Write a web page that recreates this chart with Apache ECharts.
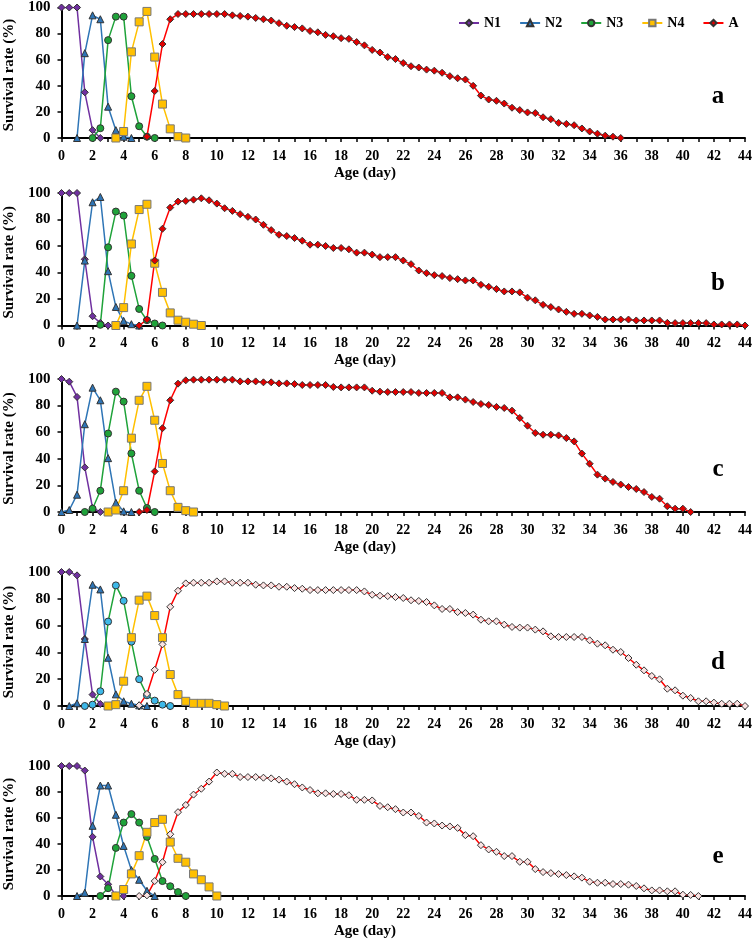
<!DOCTYPE html>
<html>
<head>
<meta charset="utf-8">
<script src="https://cdn.jsdelivr.net/npm/echarts@6/dist/echarts.min.js"></script>
<style>
  html, body { margin: 0; padding: 0; background: #fff; }
  #chart { width: 755px; height: 942px; }
</style>
</head>
<body>
<div id="chart"></div>
<script>
// survival read every 0.5 day; each stage starts at its own day
var panelNames = ['a', 'b', 'c', 'd', 'e'];
var stages = ['N1', 'N2', 'N3', 'N4', 'A'];

// panel a
var startA = [0, 1, 2, 3.5, 5.5];
var aN1 = [100, 100, 100, 35, 6, 0];
var aN2 = [0, 65, 94, 91, 24, 6, 1, 0];
var aN3 = [0, 7.5, 75, 93, 93, 32, 9, 1, 0];
var aN4 = [0, 5, 66, 89, 97, 62, 26, 7, 1, 0];
var aA = [1, 36, 72, 91, 95, 95, 95, 95, 95, 95, 95, 94, 93.5, 93, 92, 91, 90, 88, 86, 85,
  84, 82, 81, 79, 78, 76.5, 76, 73.5, 71, 67.5, 65.5, 62, 60.5, 57.4, 55, 54, 52.4, 51.6, 50, 47.4,
  45.8, 44.8, 40, 32.5, 29.5, 28.5, 26.4, 23.2, 21.4, 19.6, 19.1, 15.9, 14.4, 11.6, 10.8, 9.8, 7.3, 5, 3.3, 1.8,
  1, 0];

// panel b
var startB = [0, 1, 2.5, 3.5, 5];
var bN1 = [100, 100, 100, 50, 7, 2, 0];
var bN2 = [0, 49, 93, 97, 41, 14, 3.5, 1, 0];
var bN3 = [0.5, 59, 86, 83, 37.5, 12.5, 4, 1.5, 0];
var bN4 = [0, 13.5, 61.5, 87.5, 91.5, 47, 25, 9.5, 4, 2.5, 1, 0];
var bA = [0, 4.5, 49, 73, 89, 93.5, 94, 95, 96, 94.5, 92, 88.5, 86.5, 84, 82, 80, 76, 72, 68.5, 67.5,
  66, 64, 61, 61, 60, 58.5, 58.5, 57.5, 55, 55, 53.5, 51.6, 51.6, 51.6, 49, 46.3, 41.5, 39.5, 38, 37.3,
  35.8, 35, 34, 34, 30.7, 29.2, 27.5, 25.7, 25.7, 25, 21, 19, 15.6, 13.9, 12.1, 10.3, 8.8, 8.8, 7.6, 6.5,
  4.5, 4.5, 4.5, 4.5, 3.8, 3.8, 3.8, 3.8, 2, 1.8, 1.8, 1.8, 1.8, 1.8, 0.8, 0.8, 0.8, 0.8, 0];

// panel c
var startC = [0, 0, 1.5, 3, 5];
var cN1 = [100, 98, 86.5, 33.5, 3, 0];
var cN2 = [0, 1.5, 13, 66, 93.5, 84, 40.5, 7, 0.5, 0];
var cN3 = [0, 2.5, 16, 59, 90.5, 83, 44, 16, 3, 0];
var cN4 = [0, 1.5, 16, 55.5, 84, 94.5, 69, 36.5, 16, 3.5, 1, 0];
var cA = [0, 1.5, 30.5, 63, 84, 96.5, 99, 99.5, 99.5, 99.5, 99.5, 99.5, 99.5, 98.2, 98.2, 98.2, 97.5, 97.5, 96.7, 96.7,
  96.2, 95.5, 95.5, 95.5, 95.5, 94, 93.7, 93.7, 93.7, 93.7, 91.2, 90.5, 90.2, 90.2, 90.2, 90.2, 89.5, 89.5, 89.5, 89.5,
  86.2, 86.2, 84.5, 82.7, 81.2, 80.5, 79, 78.2, 76.2, 70.7, 64.9, 59.4, 58.1, 58.1, 57.6, 55.6, 53.1, 43.9, 36.3, 28.1,
  25.1, 22.6, 20.6, 18.8, 17.3, 15, 11.3, 10, 4.3, 2.5, 2.5, 0];

// panel d
var startD = [0, 0.5, 1.5, 3, 5];
var dN1 = [100, 100, 97.5, 50, 8.5, 1.5, 0];
var dN2 = [0, 2, 50, 90.5, 87, 36, 8.7, 3.5, 1.7, 0.5, 0];
var dN3 = [0, 1, 11, 63, 90, 78.5, 48, 20, 8, 4, 1, 0];
var dN4 = [0, 1, 18.5, 51, 79, 82, 67.5, 51, 23.5, 8.5, 3.5, 2, 2, 2, 1, 0];
var dA = [0.5, 9, 27, 46, 74, 86, 91.5, 92, 92, 92, 93, 93, 92, 92, 92, 90.5, 90, 90, 89, 89,
  88, 87.5, 86.5, 86.5, 86.5, 86.5, 86.5, 86.5, 86.5, 85.5, 83, 82.3, 82, 81.3, 80.6, 78.9, 78.4, 77.6, 75.1, 72.4,
  72.4, 70.1, 69.4, 68.2, 64.4, 63.2, 63.2, 60.7, 59, 58.5, 58.5, 57, 55.7, 52, 51.5, 51.5, 51.5, 51.5, 49, 46.5,
  45.3, 42, 40.3, 35.8, 30.8, 26.6, 22.4, 19.9, 12.9, 11.7, 7.7, 6, 3.5, 3.5, 2.5, 1.7, 1.7, 1.7, 0];

// panel e
var startE = [0, 1, 2.5, 3.5, 5];
var eN1 = [100, 100, 100, 96.5, 45.5, 15, 9, 0.5, 0];
var eN2 = [0, 2.5, 54, 85, 85, 62.5, 38.5, 20, 12.5, 4, 0];
var eN3 = [0, 6, 37, 56.5, 63, 56.5, 45.5, 28.5, 11.5, 7.5, 3, 0];
var eN4 = [0, 5, 17, 31, 49, 56.5, 59, 41.5, 29, 26, 17, 12.5, 7, 0];
var eA = [0, 0.5, 11.5, 26, 47.5, 64.5, 70, 78, 82.5, 88, 95, 94, 94, 91.5, 91.5, 91.5, 91, 90.5, 89.5, 88,
  86, 83.5, 81.5, 79, 79, 78.5, 78.5, 77.5, 74, 74, 73.5, 69.3, 68.3, 66.8, 64.2, 64.2, 61.6, 56.5, 55.8, 54.2,
  53.5, 52.4, 46.8, 46, 39.1, 35.8, 34, 30.7, 30.7, 26.3, 26.3, 20.7, 18.4, 17.6, 16.9, 16.1, 15.1, 14.1, 11, 10.2,
  10.2, 9.2, 9.2, 8.7, 7.7, 5.9, 4.3, 4.3, 3.6, 3.6, 1, 0.8, 0];

var xTicks = [0, 44, 2];
var yTicks = [0, 100, 20];

var panelStarts = [startA, startB, startC, startD, startE];
var panelData = [
  [aN1, aN2, aN3, aN4, aA],
  [bN1, bN2, bN3, bN4, bA],
  [cN1, cN2, cN3, cN4, cA],
  [dN1, dN2, dN3, dN4, dA],
  [eN1, eN2, eN3, eN4, eA]
];

var font = '"Liberation Serif", "Times New Roman", serif';
var gridTop = [6, 193, 379, 572, 766];
var gridH = [132, 132.5, 133, 134, 130];

var lineColors = ['#7030A0', '#2E75B6', '#1FA33A', '#FFC000', '#FF0000'];
var fills = ['#7030A0', '#2E75B6', '#1FA33A', '#FFC000', '#E00000'];
var borders = ['#333', '#333', '#333', '#777', '#333'];
var symbols = ['diamond', 'triangle', 'circle', 'rect', 'diamond'];
var sizes = [7, 7, 7, 8, 7];

function toPoints(start, vals) {
  return vals.map(function (v, i) { return [start + i * 0.5, v]; });
}

var chart = echarts.init(document.getElementById('chart'));
var grids = [], xAxes = [], yAxes = [], series = [], graphics = [];

panelNames.forEach(function (p, k) {
  grids.push({ left: 61.5, right: 9, top: gridTop[k], height: gridH[k] });
  xAxes.push({
    type: 'value', gridIndex: k, min: xTicks[0], max: xTicks[1], interval: xTicks[2],
    axisLine: { lineStyle: { color: '#000', width: 2 } },
    axisTick: { length: 4, lineStyle: { color: '#000', width: 1.5 } },
    minorTick: { show: true, splitNumber: 2, length: 4, lineStyle: { color: '#000', width: 1.5 } },
    axisLabel: { color: '#000', fontFamily: font, fontWeight: 'bold', fontSize: 14, margin: 11 },
    splitLine: { show: false }
  });
  yAxes.push({
    type: 'value', gridIndex: k, min: yTicks[0], max: yTicks[1], interval: yTicks[2],
    axisLine: { show: true, lineStyle: { color: '#000', width: 2 } },
    axisTick: { show: true, length: 4, lineStyle: { color: '#000', width: 1.5 } },
    axisLabel: { color: '#000', fontFamily: font, fontWeight: 'bold', fontSize: 15, margin: 11 },
    splitLine: { show: false }
  });
  stages.forEach(function (s, j) {
    var fill = fills[j];
    if (k === 3 && j === 2) fill = '#3DB8E8';
    if ((k === 3 || k === 4) && j === 4) fill = '#FBE3E3';
    series.push({
      name: s, type: 'line', xAxisIndex: k, yAxisIndex: k,
      data: toPoints(panelStarts[k][j], panelData[k][j]),
      symbol: symbols[j], symbolSize: sizes[j],
      lineStyle: { color: lineColors[j], width: 1.5 },
      itemStyle: { color: fill, borderColor: borders[j], borderWidth: 1 },
      emphasis: { disabled: true }
    });
  });
  var bottom = gridTop[k] + gridH[k];
  graphics.push({
    type: 'text', x: 365, y: bottom + 35,
    style: { text: 'Age (day)', fill: '#000', font: 'bold 15px ' + font, align: 'center', verticalAlign: 'middle' }
  });
  graphics.push({
    type: 'text', x: 9, y: gridTop[k] + gridH[k] / 2 + 3, rotation: Math.PI / 2,
    style: { text: 'Survival rate (%)', fill: '#000', font: 'bold 15px ' + font, align: 'center', verticalAlign: 'middle' }
  });
  graphics.push({
    type: 'text', x: 718, y: gridTop[k] + 91,
    style: { text: p, fill: '#000', font: 'bold 25px ' + font, align: 'center', verticalAlign: 'middle' }
  });
});

var option = {
  animation: false,
  backgroundColor: '#fff',
  legend: {
    data: stages, left: 453, top: 11, width: 300, itemWidth: 20, itemHeight: 8, itemGap: 18,
    textStyle: { color: '#000', fontFamily: font, fontWeight: 'bold', fontSize: 14 },
    selectedMode: false
  },
  grid: grids,
  xAxis: xAxes,
  yAxis: yAxes,
  series: series,
  graphic: graphics
};
option && chart.setOption(option);
</script>
</body>
</html>
